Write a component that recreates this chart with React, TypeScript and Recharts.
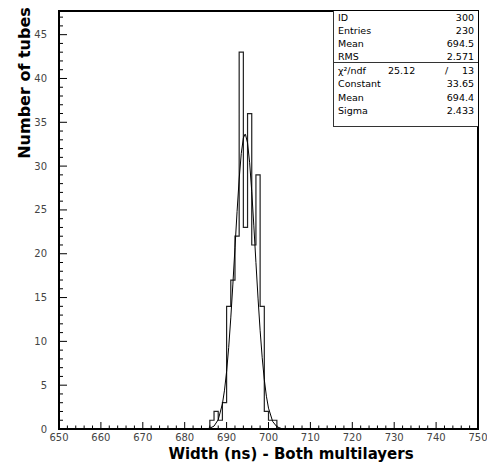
import React from 'react';
import { ComposedChart, Line, XAxis, YAxis, ReferenceArea } from 'recharts';

// histogram: 1 ns bins, first non-empty bin starts at 686
const binStart = 686;
const binCounts = [1, 2, 1, 3, 14, 17, 22, 43, 23, 36, 21, 29, 14, 2, 1, 1];

// gaussian fit curve
const fitX = [685, 686, 687, 688, 689, 689.5, 690, 690.5, 691, 691.5, 692, 692.5, 693, 693.5, 694, 694.4,
  694.5, 695, 695.5, 696, 696.5, 697, 697.5, 698, 698.5, 699, 699.5, 700, 701, 702, 703];
const fitY = [0.02, 0.09, 0.33, 1.06, 2.87, 4.43, 6.56, 9.31, 12.68, 16.54, 20.69, 24.81, 28.52, 31.43, 33.2, 33.65,
  33.62, 32.64, 30.38, 27.11, 23.18, 19.01, 14.94, 11.26, 8.13, 5.63, 3.74, 2.38, 0.85, 0.26, 0.07];

const xMajorTicks = [650, 660, 670, 680, 690, 700, 710, 720, 730, 740, 750];
const yMajorTicks = [0, 5, 10, 15, 20, 25, 30, 35, 40, 45];
const xMin = 650;
const xMax = 750;
const yMax = 47.7;

const statsTop = [
  ['ID', '300'],
  ['Entries', '230'],
  ['Mean', '694.5'],
  ['RMS', '2.571'],
];
const chi2 = '25.12';
const ndf = '13';
const statsFit = [
  ['Constant', '33.65'],
  ['Mean', '694.4'],
  ['Sigma', '2.433'],
];

const xTicks: number[] = [];
for (let v = xMin; v <= xMax; v += 2) xTicks.push(v);
const yTicks: number[] = [];
for (let v = 0; v <= 47; v += 1) yTicks.push(v);

const histData = [
  { x: xMin, h: 0 },
  ...binCounts.map((c, i) => ({ x: binStart + i, h: c })),
  { x: binStart + binCounts.length, h: 0 },
  { x: xMax, h: 0 },
];
const fitData = fitX.map((x, i) => ({ x, f: fitY[i] }));

const FONT = '"DejaVu Sans", Verdana, sans-serif';

const renderXTick = (props: any) => {
  const { x, y, payload } = props;
  const v = payload.value;
  const major = xMajorTicks.includes(v);
  return (
    <g key={`xt-${v}`}>
      <line x1={x} x2={x} y1={y} y2={y - (major ? 7 : 3.5)} stroke="#000" />
      {major && (
        <text x={x} y={y + 12} textAnchor="middle" fontSize={10} fill="#444" fontFamily={FONT}>
          {v}
        </text>
      )}
    </g>
  );
};

const renderYTick = (props: any) => {
  const { x, y, payload } = props;
  const v = payload.value;
  const major = yMajorTicks.includes(v);
  return (
    <g key={`yt-${v}`}>
      <line x1={x} x2={x + (major ? 8 : 4)} y1={y} y2={y} stroke="#000" />
      {major && (
        <text x={x - 12} y={y} dy={3.5} textAnchor="end" fontSize={10} fill="#444" fontFamily={FONT}>
          {v}
        </text>
      )}
    </g>
  );
};

const rowStyle: React.CSSProperties = {
  display: 'flex',
  justifyContent: 'space-between',
  height: 13,
  lineHeight: '13px',
  padding: '0 4px 0 4px',
};

export default function App() {
  return (
    <div style={{ position: 'absolute', left: 0, top: 0, width: 487, height: 466, background: '#fff', fontFamily: FONT }}>
      <ComposedChart width={487} height={466} margin={{ top: 11, right: 9, left: 58, bottom: 36 }}>
        <XAxis
          dataKey="x"
          type="number"
          domain={[xMin, xMax]}
          ticks={xTicks}
          interval={0}
          height={1}
          tickSize={0}
          tickMargin={0}
          tickLine={false}
          tick={renderXTick}
          axisLine={{ stroke: '#000', strokeWidth: 2 }}
          allowDataOverflow
        />
        <YAxis
          type="number"
          domain={[0, yMax]}
          ticks={yTicks}
          interval={0}
          width={1}
          tickSize={0}
          tickMargin={0}
          tickLine={false}
          tick={renderYTick}
          axisLine={{ stroke: '#000', strokeWidth: 2 }}
          allowDataOverflow
        />
        <ReferenceArea x1={xMin} x2={xMax} y1={0} y2={yMax} fill="none" stroke="#000" strokeWidth={2} ifOverflow="visible" />
        <Line
          data={histData}
          dataKey="h"
          type="stepAfter"
          stroke="#222"
          strokeWidth={1.2}
          dot={false}
          isAnimationActive={false}
        />
        <Line
          data={fitData}
          dataKey="f"
          type="linear"
          stroke="#000"
          strokeWidth={1}
          dot={false}
          isAnimationActive={false}
        />
      </ComposedChart>

      <div
        style={{
          position: 'absolute',
          left: 24,
          top: 83,
          transform: 'translate(-50%, -50%) rotate(-90deg)',
          whiteSpace: 'nowrap',
          fontWeight: 'bold',
          fontSize: 16,
          color: '#000',
        }}
      >
        Number of tubes
      </div>
      <div
        style={{
          position: 'absolute',
          left: 291,
          top: 454,
          transform: 'translate(-50%, -50%)',
          whiteSpace: 'nowrap',
          fontWeight: 'bold',
          fontSize: 15,
          color: '#000',
        }}
      >
        Width (ns) - Both multilayers
      </div>

      <div
        style={{
          position: 'absolute',
          left: 333,
          top: 11,
          width: 145,
          height: 116,
          border: '1px solid #333',
          borderTop: 'none',
          borderRight: 'none',
          boxSizing: 'border-box',
          background: '#fff',
          fontSize: 9.5,
          color: '#000',
        }}
      >
        <div style={{ height: 52, borderBottom: '1px solid #333', boxSizing: 'border-box' }}>
          {statsTop.map(([k, v]) => (
            <div key={k} style={rowStyle}>
              <span>{k}</span>
              <span>{v}</span>
            </div>
          ))}
        </div>
        <div style={{ paddingTop: 1 }}>
          <div style={{ ...rowStyle, position: 'relative' }}>
            <span>χ²/ndf</span>
            <span style={{ position: 'absolute', left: 54 }}>{chi2}</span>
            <span style={{ position: 'absolute', left: 111 }}>/</span>
            <span>{ndf}</span>
          </div>
          {statsFit.map(([k, v]) => (
            <div key={k} style={{ ...rowStyle, height: 13.5, lineHeight: '13.5px' }}>
              <span>{k}</span>
              <span>{v}</span>
            </div>
          ))}
        </div>
      </div>
    </div>
  );
}
